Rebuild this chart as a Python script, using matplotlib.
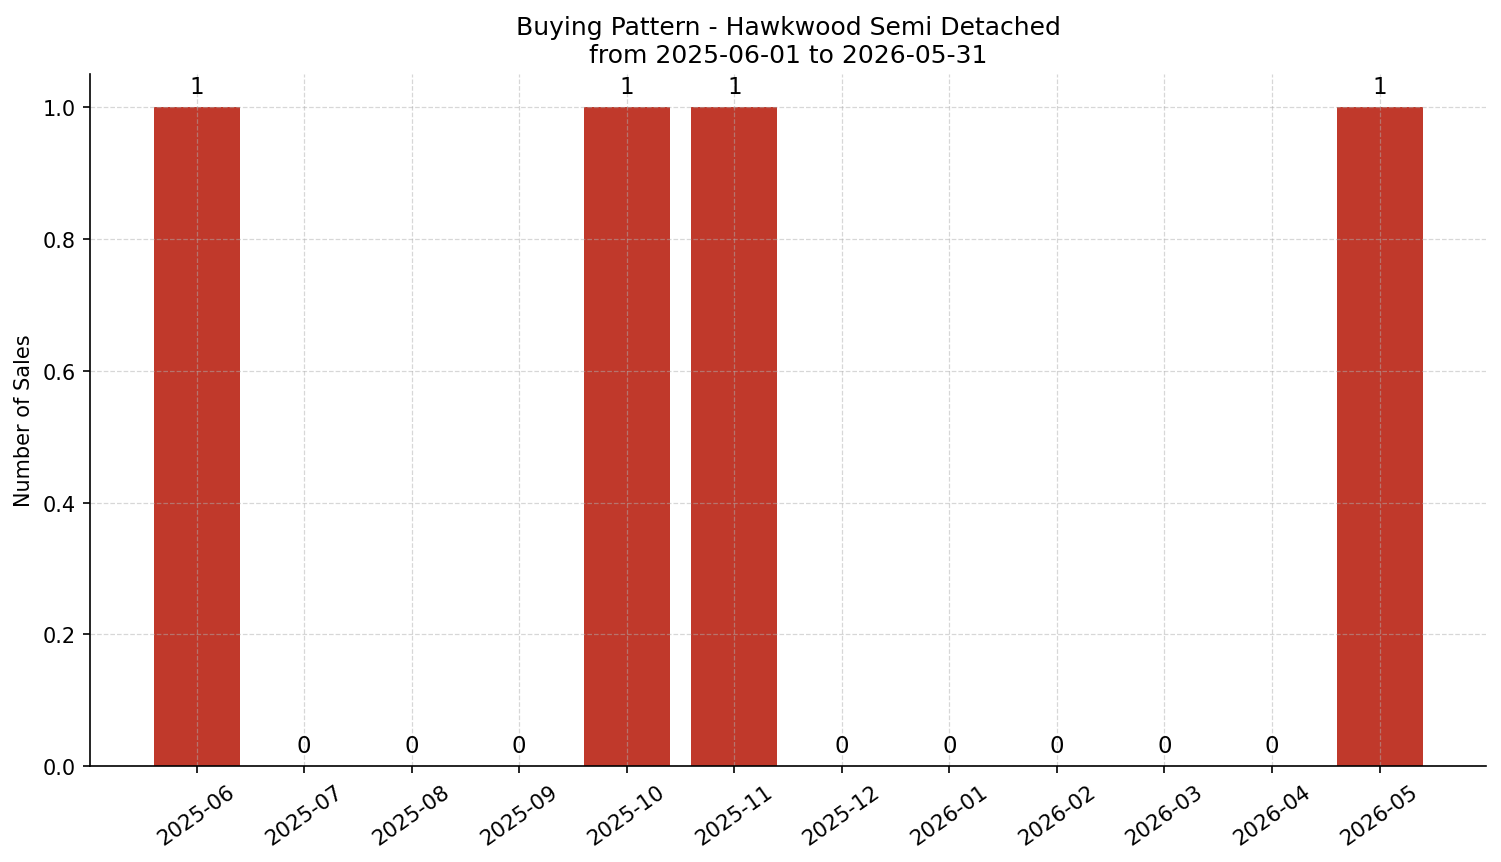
import matplotlib
matplotlib.use("Agg")
import matplotlib.pyplot as plt

months = ["2025-06", "2025-07", "2025-08", "2025-09", "2025-10", "2025-11",
          "2025-12", "2026-01", "2026-02", "2026-03", "2026-04", "2026-05"]
sales = [1, 0, 0, 0, 1, 1, 0, 0, 0, 0, 0, 1]

title = "Buying Pattern - Hawkwood Semi Detached\nfrom 2025-06-01 to 2026-05-31"

fig, ax = plt.subplots(figsize=(10.007, 5.753), dpi=150)

bars = ax.bar(months, sales, color="#c0392b", width=0.8)
ax.bar_label(bars, labels=[str(v) for v in sales], padding=4.5, fontsize=11)

ax.set_title(title, fontsize=12)
ax.set_ylabel("Number of Sales", fontsize=10)
ax.grid(True, linestyle="--", alpha=0.5, color="#b0b0b0", linewidth=0.6)
ax.spines["top"].set_visible(False)
ax.spines["right"].set_visible(False)
plt.xticks(rotation=35, fontsize=10.2)

fig.subplots_adjust(left=0.06, right=0.99, top=0.913, bottom=0.111)
fig.savefig("out.png", dpi=150)
